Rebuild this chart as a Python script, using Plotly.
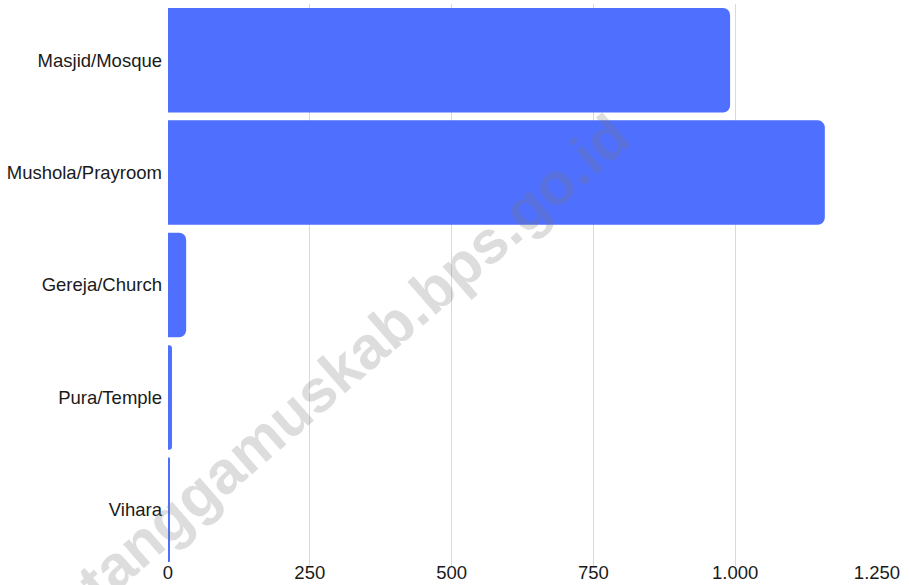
import plotly.graph_objects as go

categories = ["Masjid/Mosque", "Mushola/Prayroom", "Gereja/Church", "Pura/Temple", "Vihara"]
values = [991, 1158, 32, 7, 2]
tick_vals = [0, 250, 500, 750, 1000, 1250]
tick_text = ["0", "250", "500", "750", "1.000", "1.250"]

fig = go.Figure(
    go.Bar(
        y=categories,
        x=values,
        orientation="h",
        marker=dict(color="#4F6FFF", line=dict(width=0)),
        hoverinfo="x+y",
    )
)

fig.update_layout(
    width=909,
    height=585,
    margin=dict(l=168, r=32, t=4, b=19, autoexpand=False),
    paper_bgcolor="white",
    plot_bgcolor="white",
    bargap=0.07,
    barcornerradius=7,
    font=dict(family="Liberation Sans", size=18.5, color="#1a1a1a"),
    showlegend=False,
    xaxis=dict(
        range=[0, 1250],
        tickvals=tick_vals,
        ticktext=tick_text,
        showgrid=True,
        gridcolor="#d9d9d9",
        gridwidth=1,
        zeroline=False,
        showline=False,
        ticks="",
        automargin=False,
        ticklabelstandoff=-7,
    ),
    yaxis=dict(
        categoryorder="array",
        categoryarray=categories,
        autorange="reversed",
        showgrid=False,
        zeroline=False,
        showline=False,
        ticks="",
        ticklabelstandoff=5,
        automargin=False,
    ),
    annotations=[
        dict(
            text="tanggamuskab.bps.go.id",
            x=0.262,
            y=0.37,
            xref="paper",
            yref="paper",
            xanchor="center",
            yanchor="middle",
            showarrow=False,
            textangle=-41,
            font=dict(family="Liberation Sans", size=60, color="rgba(120,120,120,0.25)", weight="bold"),
        )
    ],
)

fig.write_html("out.html")
